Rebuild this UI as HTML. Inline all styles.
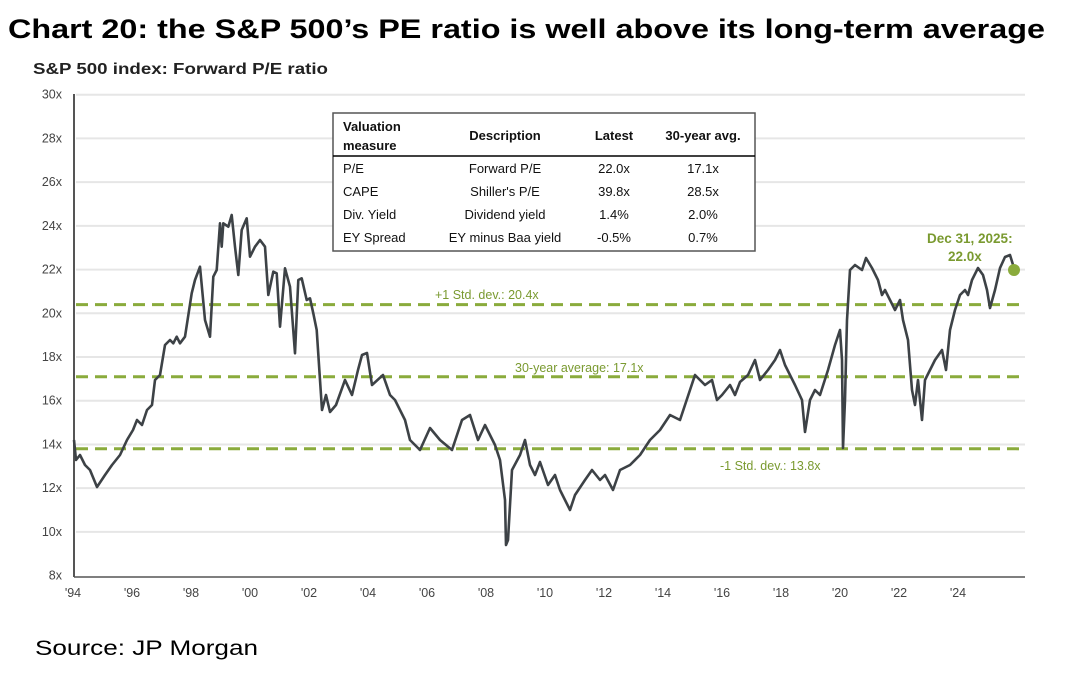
<!DOCTYPE html>
<html><head><meta charset="utf-8"><style>
body{margin:0;background:#fff;width:1082px;height:676px;overflow:hidden;font-family:"Liberation Sans",sans-serif}
</style></head><body>
<svg width="1082" height="676" xmlns="http://www.w3.org/2000/svg" font-family="Liberation Sans, sans-serif">
<text x="8" y="38" font-size="27" font-weight="bold" fill="#000" textLength="1037" lengthAdjust="spacingAndGlyphs">Chart 20: the S&amp;P 500’s PE ratio is well above its long-term average</text>
<text x="33" y="74" font-size="15.5" font-weight="bold" fill="#222" textLength="295" lengthAdjust="spacingAndGlyphs">S&amp;P 500 index: Forward P/E ratio</text>
<g id="grid" stroke="#e6e6e6" stroke-width="2"></g>
<g id="ylab" font-size="12.5" fill="#444" text-anchor="end"></g>
<g id="xlab" font-size="12.5" fill="#444" text-anchor="middle"></g>
<line x1="74" y1="94" x2="74" y2="577" stroke="#555" stroke-width="2"/>
<line x1="74" y1="577" x2="1025" y2="577" stroke="#555" stroke-width="1.5"/>
<g stroke="#8aab3c" stroke-width="3" stroke-dasharray="12,7">
<line x1="76" y1="304.6" x2="1025" y2="304.6"/>
<line x1="76" y1="376.7" x2="1025" y2="376.7"/>
<line x1="76" y1="448.8" x2="1025" y2="448.8"/>
</g>
<g font-size="12.5" fill="#7a9a30">
<text x="435" y="299">+1 Std. dev.: 20.4x</text>
<text x="515" y="372">30-year average: 17.1x</text>
<text x="720" y="470">-1 Std. dev.: 13.8x</text>
<text x="927" y="243" font-size="13.5" font-weight="bold">Dec 31, 2025:</text>
<text x="948" y="261" font-size="13.5" font-weight="bold">22.0x</text>
</g>
<path id="ln" fill="none" stroke="#3d4246" stroke-width="2.6" stroke-linejoin="round"/>
<circle cx="1014" cy="270" r="6" fill="#8aab3c"/>
<rect x="333" y="113" width="422" height="138" fill="#fff" stroke="#555" stroke-width="1.5"/>
<line x1="333" y1="156" x2="755" y2="156" stroke="#000" stroke-width="1.5"/>
<g font-size="13" fill="#111">
<text x="343" y="131" font-weight="bold">Valuation</text>
<text x="343" y="150" font-weight="bold">measure</text>
<text x="505" y="140" font-weight="bold" text-anchor="middle">Description</text>
<text x="614" y="140" font-weight="bold" text-anchor="middle">Latest</text>
<text x="703" y="140" font-weight="bold" text-anchor="middle">30-year avg.</text>
<text x="343" y="173">P/E</text><text x="505" y="173" text-anchor="middle">Forward P/E</text><text x="614" y="173" text-anchor="middle">22.0x</text><text x="703" y="173" text-anchor="middle">17.1x</text>
<text x="343" y="196">CAPE</text><text x="505" y="196" text-anchor="middle">Shiller's P/E</text><text x="614" y="196" text-anchor="middle">39.8x</text><text x="703" y="196" text-anchor="middle">28.5x</text>
<text x="343" y="219">Div. Yield</text><text x="505" y="219" text-anchor="middle">Dividend yield</text><text x="614" y="219" text-anchor="middle">1.4%</text><text x="703" y="219" text-anchor="middle">2.0%</text>
<text x="343" y="242">EY Spread</text><text x="505" y="242" text-anchor="middle">EY minus Baa yield</text><text x="614" y="242" text-anchor="middle">-0.5%</text><text x="703" y="242" text-anchor="middle">0.7%</text>
</g>
<text x="35" y="655" font-size="21" fill="#000" textLength="223" lengthAdjust="spacingAndGlyphs">Source: JP Morgan</text>
</svg>
<script>
var ns="http://www.w3.org/2000/svg";
function Y(v){return 94.7+(30-v)*21.86;}
var g=document.getElementById("grid"),yl=document.getElementById("ylab"),xl=document.getElementById("xlab");
for(var v=8;v<=30;v+=2){var y=Y(v);
 if(v>8){var l=document.createElementNS(ns,"line");l.setAttribute("x1",76);l.setAttribute("x2",1025);l.setAttribute("y1",y);l.setAttribute("y2",y);g.appendChild(l);}
 var t=document.createElementNS(ns,"text");t.setAttribute("x",62);t.setAttribute("y",y+4);t.textContent=v+"x";yl.appendChild(t);}
for(var yr=1994;yr<=2024;yr+=2){var t=document.createElementNS(ns,"text");t.setAttribute("x",73+(yr-1994)*29.5);t.setAttribute("y",597);t.textContent="'"+String(yr).slice(2);xl.appendChild(t);}
var early=[[74,440],[76,460],[80,455],[85,465],[90,470],[97,487],[105,475],[112,465],[120,455],[127,440],[133,430],[137,420],[142,425],[147,410],[152,405],[155,380],[160,375],[165,345],[170,340]];
var z=[[510,780],[520,790],[530,770],[540,790],[555,770],[575,640],[585,600],[600,560],[615,720],[630,770],[640,590],[650,570],[660,430],[665,500],[670,430],[685,440],[695,405],[705,500],[715,585],[725,450],[740,415],[750,530],[765,500],[780,480],[795,500],[805,645],[820,575],[830,580],[840,740],[855,565],[870,620],[885,820],[895,600],[905,595],[920,660],[930,655],[940,700],[950,750],[960,900]];
var pts=early.concat(z.map(function(p){return [p[0]/3,80+p[1]/3];}));
var late=[[322,410],[326,395],[330,412],[336,405],[345,380],[352,395],[358,370],[362,355],[367,353],[372,385],[383,375],[390,395],[395,400],[405,420],[410,440],[420,450],[430,428],[440,440],[452,450],[462,420],[470,415],[478,440],[485,425],[495,445],[500,460],[505,500],[506,545],[508,540],[512,470],[520,455],[525,440],[530,465],[535,475],[540,462],[548,485],[555,475],[560,490],[570,510],[575,495],[585,480],[592,470],[600,480],[605,475],[613,490],[620,470],[630,465],[640,455],[650,440],[660,430],[670,415],[680,420],[690,390],[695,375],[705,385],[712,380],[717,400],[722,395],[730,385],[735,395],[740,382],[748,375],[755,360],[760,380],[768,370],[775,360],[780,350],[785,365],[795,385],[802,400],[805,432],[810,400],[815,390],[820,395],[828,370],[835,345],[840,330],[842,360],[843,448],[845,400],[847,320],[850,270],[855,265],[862,270],[866,258],[872,268],[878,280],[882,295],[885,290],[890,300],[895,310],[900,300],[903,320],[908,340],[912,390],[915,405],[918,380],[922,420],[925,380],[930,370],[935,360],[942,350],[946,370],[950,330],[955,310],[960,295],[965,290],[968,295],[972,280],[978,268],[983,275],[987,290],[990,308],[995,290],[1000,268],[1005,257],[1010,255],[1014,268]];
pts=pts.concat(late);
document.getElementById("ln").setAttribute("d","M"+pts.map(function(p){return p[0].toFixed(1)+","+p[1].toFixed(1);}).join(" L"));
</script>
</body></html>
